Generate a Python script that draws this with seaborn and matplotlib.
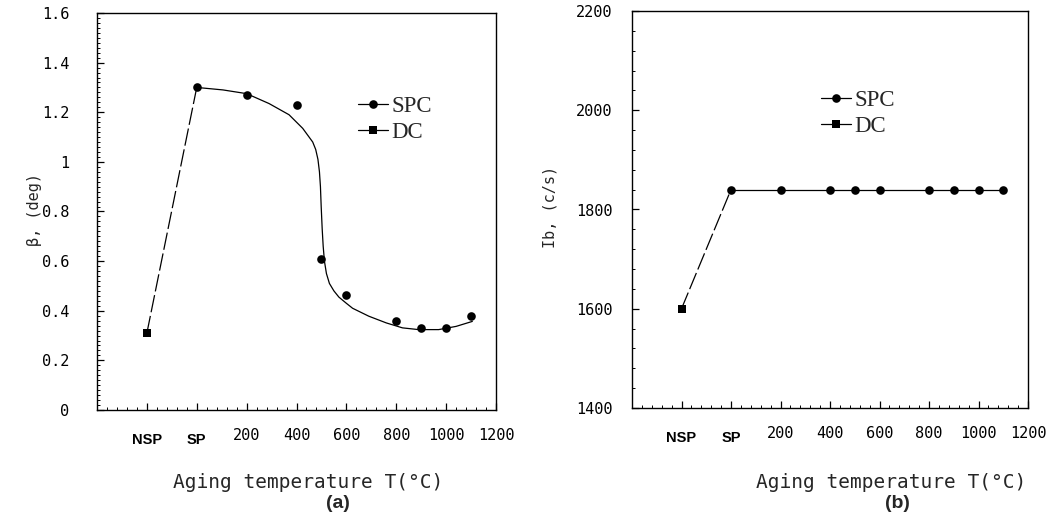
import matplotlib
matplotlib.use("Agg")
import matplotlib.pyplot as plt
import matplotlib.transforms as mtransforms
import numpy as np
import pandas as pd
import seaborn as sns
from matplotlib.lines import Line2D
from matplotlib.ticker import MultipleLocator, FixedLocator

# ---------------- data ----------------
tick_pos = [-200, 0, 200, 400, 600, 800, 1000, 1200]
tick_labels = ["NSP", "SP", "200", "400", "600", "800", "1000", "1200"]
cond_pos = {"NSP": -200, "SP": 0}

# panel (a): FWHM beta (deg)
spc_temp_a = ["SP", 200, 400, 500, 600, 800, 900, 1000, 1100]
spc_beta = [1.30, 1.27, 1.23, 0.61, 0.465, 0.357, 0.331, 0.331, 0.378]
dc_temp_a = ["NSP"]
dc_beta = [0.31]
# hand-drawn fit curve
fit_temp = [0, 105, 200, 290, 370, 425, 465, 477, 486, 492, 496, 499, 503,
            507, 512, 520, 532, 550, 570, 600, 625, 690, 760, 825, 890, 970,
            1040, 1105]
fit_beta = [1.30, 1.29, 1.275, 1.235, 1.19, 1.135, 1.08, 1.05, 1.01, 0.96,
            0.90, 0.82, 0.73, 0.66, 0.60, 0.55, 0.51, 0.48, 0.455, 0.43,
            0.41, 0.378, 0.351, 0.331, 0.324, 0.324, 0.337, 0.357]

# panel (b): background intensity Ib (c/s)
spc_temp_b = ["SP", 200, 400, 500, 600, 800, 900, 1000, 1100]
spc_ib = [1840, 1840, 1840, 1840, 1840, 1840, 1840, 1840, 1840]
dc_temp_b = ["NSP"]
dc_ib = [1600]

yticks_a = [0, 0.2, 0.4, 0.6, 0.8, 1.0, 1.2, 1.4, 1.6]
yticklabels_a = ["0", "0.2", "0.4", "0.6", "0.8", "1", "1.2", "1.4", "1.6"]
yticks_b = [1400, 1600, 1800, 2000, 2200]


def pos(seq):
    return [cond_pos.get(t, t) for t in seq]


# ---------------- style ----------------
sns.set_style("ticks")
plt.rcParams["font.family"] = ["DejaVu Sans Mono", "DejaVu Sans"]
plt.rcParams["axes.linewidth"] = 1.0

fig = plt.figure(figsize=(10.59, 5.21), dpi=100)
ax_a = fig.add_axes([97 / 1059, 1 - 410 / 521, 399 / 1059, 397 / 521])
ax_b = fig.add_axes([632 / 1059, 1 - 408 / 521, 396 / 1059, 397 / 521])

MS = 6.2
dash = (0, (14, 3))

df_spc_a = pd.DataFrame({"T": pos(spc_temp_a), "v": spc_beta})
df_dc_a = pd.DataFrame({"T": pos(dc_temp_a), "v": dc_beta})
df_fit = pd.DataFrame({"T": fit_temp, "v": fit_beta})
df_conn_a = pd.DataFrame({"T": pos(dc_temp_a) + pos(spc_temp_a[:1]),
                          "v": dc_beta + spc_beta[:1]})

sns.lineplot(data=df_fit, x="T", y="v", ax=ax_a, color="black", lw=0.9,
             estimator=None, sort=False)
sns.lineplot(data=df_conn_a, x="T", y="v", ax=ax_a, color="black", lw=0.9,
             estimator=None, sort=False, linestyle=dash)
sns.scatterplot(data=df_spc_a, x="T", y="v", ax=ax_a, color="black",
                marker="o", s=MS ** 2, edgecolor="black", linewidth=0)
sns.scatterplot(data=df_dc_a, x="T", y="v", ax=ax_a, color="black",
                marker="s", s=MS ** 2, edgecolor="black", linewidth=0)

df_spc_b = pd.DataFrame({"T": pos(spc_temp_b), "v": spc_ib})
df_dc_b = pd.DataFrame({"T": pos(dc_temp_b), "v": dc_ib})
df_conn_b = pd.DataFrame({"T": pos(dc_temp_b) + pos(spc_temp_b[:1]),
                          "v": dc_ib + spc_ib[:1]})
sns.lineplot(data=df_conn_b, x="T", y="v", ax=ax_b, color="black", lw=0.9,
             estimator=None, sort=False, linestyle=dash)
sns.lineplot(data=df_spc_b, x="T", y="v", ax=ax_b, color="black", lw=0.9,
             estimator=None, sort=False, marker="o", markersize=MS,
             markeredgewidth=0)
sns.scatterplot(data=df_dc_b, x="T", y="v", ax=ax_b, color="black",
                marker="s", s=MS ** 2, edgecolor="black", linewidth=0)

# ---------------- axes formatting ----------------
shift_down = mtransforms.ScaledTranslation(0, -5 / 100, fig.dpi_scale_trans)
for ax in (ax_a, ax_b):
    ax.set_xlim(-400, 1200)
    ax.xaxis.set_major_locator(FixedLocator(tick_pos))
    ax.set_xticklabels(tick_labels)
    ax.xaxis.set_minor_locator(MultipleLocator(40))
    ax.set_xlabel("")
    ax.set_ylabel("")
    for sp in ax.spines.values():
        sp.set_visible(True)
        sp.set_color("black")
        sp.set_linewidth(1.0)
    ax.tick_params(axis="both", which="major", direction="in", length=5,
                   width=0.9, color="black", labelsize=11, labelcolor="black")
    ax.tick_params(axis="both", which="minor", direction="in", length=2.5,
                   width=0.7, color="black")
    ax.tick_params(axis="x", which="major", pad=13)
    for lab in ax.get_xticklabels():
        if lab.get_text() in ("NSP", "SP"):
            lab.set_fontfamily("Liberation Sans")
            lab.set_fontweight("bold")
            lab.set_fontsize(10.5)
            lab.set_transform(lab.get_transform() + shift_down)

ax_a.set_ylim(0, 1.6)
ax_a.yaxis.set_major_locator(FixedLocator(yticks_a))
ax_a.set_yticklabels(yticklabels_a)
ax_a.yaxis.set_minor_locator(MultipleLocator(0.02))
ax_a.tick_params(axis="y", which="major", pad=20)

ax_b.set_ylim(1400, 2200)
ax_b.yaxis.set_major_locator(FixedLocator(yticks_b))
ax_b.set_yticklabels([str(v) for v in yticks_b])
ax_b.yaxis.set_minor_locator(MultipleLocator(40))
ax_b.tick_params(axis="y", which="major", pad=14)

# ---------------- legends ----------------
handles = [
    Line2D([], [], color="black", lw=0.9, marker="o", markersize=MS,
           markeredgewidth=0),
    Line2D([], [], color="black", lw=0.9, marker="s", markersize=MS,
           markeredgewidth=0),
]
leg_labels = ["SPC", "DC"]
for ax, anchor in ((ax_a, (0.655, 0.79)), (ax_b, (0.478, 0.80))):
    ax.legend(handles, leg_labels, loc="upper left", bbox_to_anchor=anchor,
              frameon=False, handlelength=1.3, handletextpad=0.15,
              labelspacing=0.2, borderaxespad=0, borderpad=0, numpoints=1,
              prop={"family": "Liberation Serif", "size": 16.5})

# ---------------- labels ----------------
fig.text(35 / 1059, 1 - 210 / 521, "β, (deg)", rotation=90, ha="center",
         va="center", fontsize=11, family="DejaVu Sans Mono")
fig.text(550 / 1059, 1 - 207 / 521, "Ib, (c/s)", rotation=90, ha="center",
         va="center", fontsize=11, family="DejaVu Sans Mono")
fig.text(308 / 1059, 1 - 482 / 521, "Aging temperature T(°C)", ha="center",
         va="center", fontsize=14, family="DejaVu Sans Mono")
fig.text(891 / 1059, 1 - 482 / 521, "Aging temperature T(°C)", ha="center",
         va="center", fontsize=14, family="DejaVu Sans Mono")
fig.text(338 / 1059, 1 - 504 / 521, "(a)", ha="center", va="center",
         fontsize=14, family="Liberation Sans", fontweight="bold")
fig.text(897 / 1059, 1 - 504 / 521, "(b)", ha="center", va="center",
         fontsize=14, family="Liberation Sans", fontweight="bold")

fig.savefig("out.png", dpi=100, facecolor="white")
